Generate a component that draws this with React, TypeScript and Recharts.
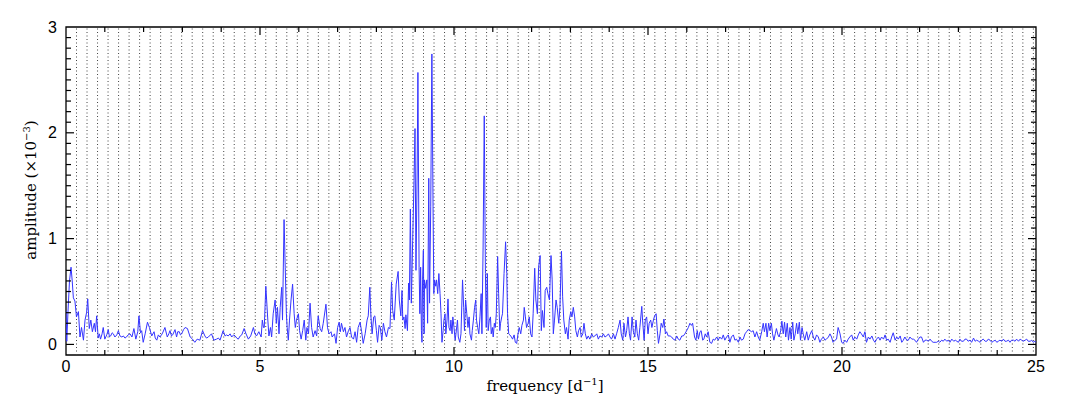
import React from 'react';
import { LineChart, Line, XAxis, YAxis, ReferenceLine, ReferenceArea } from 'recharts';

// amplitude spectrum, [frequency (d^-1), amplitude (x10^-3)]
const lowBand: [number, number][] = [
  [0.0, 0.32], [0.02, 0.03], [0.05, 0.3], [0.09, 0.6], [0.13, 0.73], [0.16, 0.6], [0.19, 0.44], [0.23, 0.41],
  [0.27, 0.26], [0.32, 0.31], [0.36, 0.07], [0.4, 0.16], [0.45, 0.04], [0.49, 0.23], [0.53, 0.3], [0.56, 0.43],
  [0.6, 0.15], [0.64, 0.23], [0.68, 0.12], [0.73, 0.2], [0.76, 0.12], [0.79, 0.27], [0.83, 0.06], [0.86, 0.1],
  [0.89, 0.05], [0.93, 0.1], [0.96, 0.16], [1.0, 0.05], [1.05, 0.09], [1.09, 0.14], [1.12, 0.07], [1.15, 0.08],
  [1.19, 0.11], [1.22, 0.1], [1.26, 0.07], [1.31, 0.09], [1.35, 0.13], [1.39, 0.08], [1.44, 0.07], [1.48, 0.08],
  [1.52, 0.06], [1.56, 0.07], [1.6, 0.09], [1.65, 0.1], [1.7, 0.07], [1.75, 0.15], [1.8, 0.05], [1.85, 0.12],
  [1.88, 0.27], [1.92, 0.11], [1.95, 0.13], [1.99, 0.02], [2.04, 0.1], [2.1, 0.21], [2.15, 0.16], [2.21, 0.08],
  [2.27, 0.12], [2.3, 0.06], [2.34, 0.04], [2.38, 0.09], [2.42, 0.07], [2.48, 0.1], [2.55, 0.16], [2.61, 0.07],
  [2.65, 0.1], [2.68, 0.13], [2.72, 0.08], [2.75, 0.09], [2.81, 0.14], [2.85, 0.07], [2.88, 0.12], [2.92, 0.12],
  [2.95, 0.09], [2.98, 0.1], [3.03, 0.14], [3.07, 0.16], [3.13, 0.15], [3.2, 0.07], [3.26, 0.05], [3.32, 0.02],
  [3.38, 0.05], [3.45, 0.04], [3.52, 0.13], [3.58, 0.08], [3.62, 0.06], [3.67, 0.07], [3.75, 0.1], [3.81, 0.04],
  [3.88, 0.05], [3.93, 0.06], [3.97, 0.04], [4.05, 0.13], [4.1, 0.08], [4.14, 0.09], [4.18, 0.08], [4.23, 0.1],
  [4.27, 0.07], [4.32, 0.09], [4.36, 0.08], [4.4, 0.06], [4.44, 0.05], [4.49, 0.08], [4.53, 0.09], [4.59, 0.15],
  [4.64, 0.1], [4.7, 0.05], [4.76, 0.08], [4.83, 0.16], [4.87, 0.1],
];

const bandFive: [number, number][] = [
  [4.91, 0.08], [4.97, 0.12], [5.03, 0.07], [5.06, 0.23], [5.09, 0.16], [5.11, 0.16], [5.15, 0.55], [5.2, 0.24],
  [5.23, 0.08], [5.27, 0.16], [5.3, 0.07], [5.34, 0.29], [5.39, 0.42], [5.42, 0.2], [5.45, 0.35], [5.49, 0.1],
  [5.52, 0.35], [5.56, 0.54], [5.58, 0.23], [5.62, 1.18], [5.65, 0.73], [5.68, 0.29], [5.7, 0.16], [5.73, 0.04],
  [5.76, 0.23], [5.8, 0.42], [5.84, 0.57], [5.88, 0.29], [5.91, 0.16], [5.94, 0.23], [5.99, 0.29], [6.02, 0.13],
  [6.06, 0.05], [6.1, 0.13], [6.14, 0.23], [6.18, 0.04], [6.21, 0.16], [6.25, 0.1], [6.29, 0.39], [6.33, 0.16],
  [6.37, 0.07], [6.42, 0.13], [6.46, 0.08], [6.5, 0.27], [6.55, 0.15], [6.59, 0.12], [6.63, 0.2], [6.7, 0.38],
  [6.74, 0.16], [6.78, 0.1], [6.83, 0.12], [6.86, 0.07], [6.92, 0.1], [6.96, 0.01], [7.0, 0.16], [7.04, 0.21],
  [7.07, 0.12], [7.1, 0.2], [7.15, 0.12], [7.19, 0.16], [7.23, 0.07], [7.28, 0.13], [7.32, 0.16], [7.36, 0.07],
  [7.41, 0.05], [7.45, 0.12], [7.49, 0.02], [7.53, 0.16], [7.58, 0.21], [7.62, 0.12], [7.66, 0.01], [7.71, 0.1],
  [7.76, 0.23], [7.79, 0.27], [7.83, 0.54], [7.86, 0.26], [7.89, 0.1], [7.93, 0.26], [7.96, 0.27], [8.0, 0.13],
  [8.03, 0.02], [8.07, 0.18], [8.1, 0.16], [8.14, 0.04], [8.18, 0.2], [8.22, 0.12], [8.26, 0.07], [8.31, 0.16],
  [8.35, 0.15], [8.39, 0.59], [8.42, 0.32], [8.46, 0.23], [8.51, 0.57], [8.56, 0.69], [8.59, 0.42], [8.63, 0.27],
  [8.66, 0.51],
];

const mainBand: [number, number][] = [
  [8.68, 0.23], [8.71, 0.26], [8.74, 0.15], [8.76, 0.28], [8.8, 0.13], [8.83, 0.58], [8.85, 0.42], [8.875, 1.28],
  [8.9, 0.39], [8.935, 0.98], [8.97, 1.55], [8.995, 2.04], [9.02, 0.7], [9.05, 1.62], [9.07, 2.57], [9.1, 0.73],
  [9.12, 0.29], [9.14, 0.73], [9.16, 0.13], [9.175, 0.02], [9.19, 0.61], [9.21, 0.89], [9.23, 0.1], [9.24, 0.61],
  [9.27, 0.53], [9.3, 0.61], [9.32, 0.2], [9.35, 1.57], [9.37, 0.39], [9.4, 1.3], [9.43, 2.745], [9.46, 1.3],
  [9.48, 0.48], [9.5, 0.61], [9.53, 0.55], [9.55, 0.61], [9.58, 0.48], [9.61, 0.67], [9.64, 0.48], [9.665, 0.29],
  [9.69, 0.02], [9.72, 0.13], [9.74, 0.23], [9.77, 0.29], [9.79, 0.1], [9.82, 0.23], [9.845, 0.43], [9.87, 0.16],
  [9.9, 0.13], [9.92, 0.23], [9.95, 0.1], [9.97, 0.26], [10.0, 0.16], [10.03, 0.04], [10.05, 0.1], [10.09, 0.23],
  [10.11, 0.07], [10.15, 0.02], [10.18, 0.1], [10.22, 0.61], [10.25, 0.35], [10.27, 0.13], [10.3, 0.42], [10.33, 0.29],
  [10.36, 0.16], [10.39, 0.26], [10.41, 0.1], [10.45, 0.04], [10.47, 0.13], [10.5, 0.23], [10.53, 0.35], [10.56, 0.42],
  [10.58, 0.23], [10.61, 0.16], [10.64, 0.1], [10.67, 0.26], [10.7, 0.48], [10.72, 0.1], [10.75, 0.92], [10.78, 2.16],
  [10.81, 0.67], [10.83, 0.16], [10.86, 0.67], [10.88, 0.13], [10.91, 0.23], [10.94, 0.26], [10.96, 0.1], [10.99, 0.16],
  [11.01, 0.07], [11.04, 0.2], [11.065, 0.16], [11.09, 0.29], [11.125, 0.83], [11.15, 0.48], [11.18, 0.13], [11.2, 0.2],
  [11.23, 0.26], [11.25, 0.29], [11.29, 0.67], [11.33, 0.97], [11.36, 0.67], [11.38, 0.29], [11.41, 0.1], [11.44, 0.09],
  [11.48, 0.07], [11.51, 0.05], [11.55, 0.09], [11.58, 0.02], [11.615, 0.01], [11.65, 0.1], [11.68, 0.16], [11.72, 0.1],
  [11.75, 0.18], [11.79, 0.23], [11.81, 0.35], [11.84, 0.26], [11.87, 0.16], [11.91, 0.2], [11.94, 0.26], [11.975, 0.1],
  [12.01, 0.07], [12.04, 0.29], [12.08, 0.72], [12.11, 0.42], [12.15, 0.29], [12.18, 0.73], [12.22, 0.84], [12.25, 0.13],
  [12.28, 0.32], [12.32, 0.16], [12.35, 0.51], [12.39, 0.54], [12.42, 0.48], [12.46, 0.42], [12.5, 0.84], [12.53, 0.61],
  [12.56, 0.1], [12.59, 0.23], [12.63, 0.42], [12.66, 0.35], [12.7, 0.2],
];

const midBand: [number, number][] = [
  [12.73, 0.35], [12.77, 0.88], [12.8, 0.45], [12.83, 0.23], [12.87, 0.1], [12.9, 0.16], [12.94, 0.05], [12.97, 0.23],
  [13.01, 0.31], [13.04, 0.26], [13.075, 0.35], [13.11, 0.26], [13.14, 0.13], [13.18, 0.07], [13.21, 0.13], [13.25, 0.16],
  [13.28, 0.07], [13.32, 0.1], [13.35, 0.2], [13.385, 0.1], [13.42, 0.05], [13.46, 0.08], [13.5, 0.05], [13.55, 0.1],
  [13.59, 0.07], [13.63, 0.08], [13.68, 0.1], [13.72, 0.05], [13.76, 0.08], [13.81, 0.07], [13.85, 0.1], [13.89, 0.07],
  [13.935, 0.08], [13.98, 0.1], [14.02, 0.07], [14.06, 0.05], [14.11, 0.1], [14.15, 0.05], [14.19, 0.1], [14.235, 0.16],
  [14.28, 0.23], [14.31, 0.1], [14.35, 0.04], [14.38, 0.2], [14.42, 0.07], [14.45, 0.13], [14.485, 0.26], [14.52, 0.1],
  [14.55, 0.04], [14.59, 0.26], [14.62, 0.13], [14.66, 0.07], [14.69, 0.23], [14.725, 0.1], [14.76, 0.04], [14.79, 0.16],
  [14.84, 0.36], [14.86, 0.23], [14.9, 0.04], [14.93, 0.23], [14.965, 0.26], [15.0, 0.1], [15.03, 0.2], [15.07, 0.23],
  [15.1, 0.16], [15.14, 0.23], [15.17, 0.27], [15.21, 0.29], [15.24, 0.13], [15.27, 0.01], [15.31, 0.1], [15.34, 0.2],
  [15.38, 0.16], [15.41, 0.24], [15.45, 0.1], [15.48, 0.12], [15.52, 0.08], [15.57, 0.08], [15.61, 0.07], [15.65, 0.05],
  [15.7, 0.04], [15.74, 0.08], [15.78, 0.05], [15.82, 0.04], [15.87, 0.08], [15.91, 0.08], [15.95, 0.1], [15.996, 0.13],
  [16.04, 0.16], [16.08, 0.2], [16.12, 0.18],
];

const highBand: [number, number][] = [
  [16.15, 0.2], [16.2, 0.07], [16.235, 0.04], [16.27, 0.13], [16.3, 0.05], [16.34, 0.12], [16.37, 0.13], [16.41, 0.04],
  [16.44, 0.05], [16.475, 0.1], [16.51, 0.07], [16.55, 0.12], [16.595, 0.02], [16.64, 0.01], [16.68, 0.05], [16.72, 0.04],
  [16.77, 0.07], [16.81, 0.04], [16.85, 0.07], [16.9, 0.05], [16.94, 0.09], [16.98, 0.04], [17.025, 0.07], [17.07, 0.09],
  [17.11, 0.02], [17.15, 0.07], [17.2, 0.09], [17.24, 0.04], [17.28, 0.05], [17.33, 0.02], [17.37, 0.07], [17.41, 0.04],
  [17.455, 0.05], [17.5, 0.1], [17.54, 0.12], [17.58, 0.14], [17.63, 0.13], [17.67, 0.12], [17.71, 0.13], [17.755, 0.07],
  [17.8, 0.12], [17.84, 0.07], [17.88, 0.04], [17.93, 0.12], [17.97, 0.2], [18.0, 0.12], [18.04, 0.2], [18.07, 0.07],
  [18.11, 0.2], [18.14, 0.13], [18.18, 0.2], [18.21, 0.1], [18.245, 0.04], [18.28, 0.1], [18.31, 0.15], [18.35, 0.09],
  [18.38, 0.07], [18.42, 0.13], [18.45, 0.22], [18.485, 0.1], [18.52, 0.21], [18.55, 0.07], [18.59, 0.2], [18.62, 0.04],
  [18.66, 0.16], [18.69, 0.05], [18.73, 0.21], [18.76, 0.04], [18.795, 0.1], [18.83, 0.2], [18.86, 0.1], [18.9, 0.21],
  [18.93, 0.04], [18.97, 0.16], [19.0, 0.1], [19.04, 0.04], [19.09, 0.12], [19.13, 0.04], [19.17, 0.09], [19.22, 0.13],
  [19.26, 0.07], [19.3, 0.04], [19.345, 0.09], [19.39, 0.07], [19.43, 0.02], [19.47, 0.05], [19.52, 0.07], [19.56, 0.04],
  [19.6, 0.05], [19.65, 0.07], [19.69, 0.1], [19.73, 0.07], [19.77, 0.02], [19.82, 0.04], [19.86, 0.05], [19.9, 0.16],
  [19.95, 0.1], [19.99, 0.02], [20.03, 0.01], [20.075, 0.04], [20.12, 0.02], [20.16, 0.05], [20.2, 0.07], [20.25, 0.09],
  [20.29, 0.04], [20.33, 0.07], [20.38, 0.05], [20.42, 0.09], [20.46, 0.12], [20.5, 0.1], [20.55, 0.07], [20.59, 0.12],
  [20.63, 0.02], [20.68, 0.07], [20.72, 0.05], [20.77, 0.08], [20.81, 0.04], [20.85, 0.02], [20.89, 0.05], [20.94, 0.07],
  [20.98, 0.04], [21.02, 0.07], [21.07, 0.05], [21.11, 0.09], [21.15, 0.04], [21.19, 0.05], [21.24, 0.02], [21.28, 0.07],
  [21.32, 0.11], [21.37, 0.04], [21.41, 0.07], [21.45, 0.05], [21.5, 0.08], [21.54, 0.02], [21.58, 0.04], [21.62, 0.07],
  [21.67, 0.04], [21.71, 0.04], [21.75, 0.07], [21.8, 0.05], [21.84, 0.05], [21.88, 0.04], [21.92, 0.02], [21.97, 0.05],
  [22.01, 0.07], [22.05, 0.07], [22.1, 0.02], [22.14, 0.04], [22.18, 0.04], [22.23, 0.03], [22.27, 0.05], [22.31, 0.03],
  [22.35, 0.02], [22.4, 0.02], [22.44, 0.02], [22.48, 0.03], [22.52, 0.02], [22.57, 0.04], [22.61, 0.03], [22.65, 0.05],
  [22.7, 0.03], [22.74, 0.04], [22.78, 0.02], [22.83, 0.05], [22.88, 0.03], [22.92, 0.04], [22.96, 0.03], [23.0, 0.02],
  [23.04, 0.05], [23.08, 0.03], [23.13, 0.03], [23.17, 0.05], [23.21, 0.05], [23.25, 0.03], [23.3, 0.04], [23.34, 0.02],
  [23.39, 0.06], [23.43, 0.03], [23.47, 0.04], [23.52, 0.03], [23.56, 0.02], [23.6, 0.04], [23.64, 0.05], [23.69, 0.03],
  [23.73, 0.03], [23.77, 0.05], [23.815, 0.04], [23.86, 0.02], [23.9, 0.03], [23.95, 0.04], [23.99, 0.02], [24.03, 0.03],
  [24.07, 0.04], [24.12, 0.03], [24.16, 0.05], [24.2, 0.03], [24.24, 0.03], [24.29, 0.04], [24.33, 0.02], [24.37, 0.04],
  [24.42, 0.04], [24.46, 0.03], [24.5, 0.05], [24.55, 0.03], [24.59, 0.05], [24.63, 0.04], [24.67, 0.03], [24.72, 0.04],
  [24.76, 0.05], [24.8, 0.03], [24.85, 0.03], [24.89, 0.04], [24.93, 0.02], [24.97, 0.03], [25.0, 0.02],
];

const spectrum = [...lowBand, ...bandFive, ...mainBand, ...midBand, ...highBand].map(([freq, amp]) => ({ freq, amp }));

const xLabels = [0, 5, 10, 15, 20, 25];
const yLabels = [0, 1, 2, 3];
const orbitalFreq = 0.271; // dotted lines at its harmonics
const harmonicCount = 92;

const X_MIN = 0;
const X_MAX = 25;
const Y_MIN = -0.1;
const Y_MAX = 3;
const PLOT_W = 970;
const PLOT_H = 328;
const pxX = (X_MAX - X_MIN) / PLOT_W;
const pxY = (Y_MAX - Y_MIN) / PLOT_H;

const tickFont = { fontFamily: 'Liberation Sans, Arial, sans-serif', fontSize: 16, fill: '#000' };

const App = () => {
  const harmonics = [];
  for (let n = 1; n <= harmonicCount; n++) harmonics.push(n * orbitalFreq);

  const segs: { x1: number; y1: number; x2: number; y2: number }[] = [];
  for (let f = 1; f < X_MAX; f++) {
    const len = f % 5 === 0 ? 8 : 5;
    segs.push({ x1: f, y1: Y_MIN, x2: f, y2: Y_MIN + len * pxY });
    segs.push({ x1: f, y1: Y_MAX, x2: f, y2: Y_MAX - len * pxY });
  }
  for (let i = 0; i < 30; i++) {
    const v = i / 10;
    const len = i % 10 === 0 ? 8 : 5;
    segs.push({ x1: X_MIN, y1: v, x2: X_MIN + len * pxX, y2: v });
    segs.push({ x1: X_MAX, y1: v, x2: X_MAX - len * pxX, y2: v });
  }

  return (
    <div style={{ position: 'absolute', left: 0, top: 0, width: 1067, height: 414, background: '#fff' }}>
      <LineChart width={1067} height={414} data={spectrum} margin={{ top: 27, right: 31, bottom: 29, left: 26 }}>
        <XAxis
          dataKey="freq"
          type="number"
          domain={[X_MIN, X_MAX]}
          ticks={xLabels}
          allowDataOverflow
          height={30}
          tickSize={0}
          tickMargin={6}
          axisLine={false}
          tick={tickFont}
        />
        <YAxis
          type="number"
          domain={[Y_MIN, Y_MAX]}
          ticks={yLabels}
          allowDataOverflow
          width={40}
          tickSize={0}
          tickMargin={9}
          axisLine={false}
          tick={tickFont}
        />
        {harmonics.map((h) => (
          <ReferenceLine key={'h' + h} x={h} stroke="#444" strokeWidth={1} strokeDasharray="1 2.5" />
        ))}
        <Line type="linear" dataKey="amp" stroke="#3434ff" strokeWidth={1} dot={false} isAnimationActive={false} />
        <ReferenceArea x1={X_MIN} x2={X_MAX} y1={Y_MIN} y2={Y_MAX} fill="none" fillOpacity={0} stroke="#000" strokeWidth={1.3} />
        {segs.map((s, i) => (
          <ReferenceLine
            key={'t' + i}
            segment={[{ x: s.x1, y: s.y1 }, { x: s.x2, y: s.y2 }]}
            stroke="#000"
            strokeWidth={1.2}
            ifOverflow="visible"
          />
        ))}
      </LineChart>
      <svg width={1067} height={414} style={{ position: 'absolute', left: 0, top: 0, pointerEvents: 'none' }}>
        <text x={545} y={391} textAnchor="middle" fontFamily="DejaVu Serif, serif" fontSize={15} fill="#000">
          frequency [d<tspan dy={-6} fontSize={10}>−1</tspan><tspan dy={6}>]</tspan>
        </text>
        <text
          x={36}
          y={190}
          textAnchor="middle"
          transform="rotate(-90 36 190)"
          fontFamily="DejaVu Serif, serif"
          fontSize={15}
          fill="#000"
        >
          amplitude (×10<tspan dy={-6} fontSize={10}>−3</tspan><tspan dy={6}>)</tspan>
        </text>
      </svg>
    </div>
  );
};

export default App;
